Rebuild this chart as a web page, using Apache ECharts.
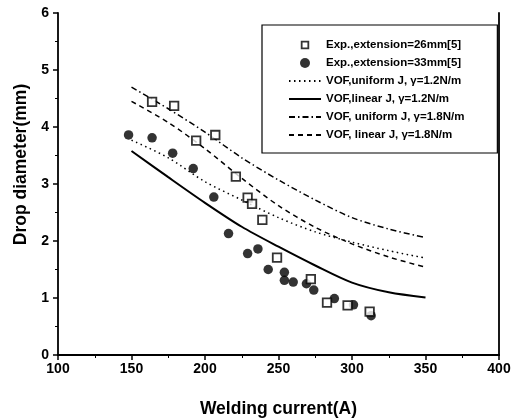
<!DOCTYPE html>
<html>
<head>
<meta charset="utf-8">
<script src="https://cdn.jsdelivr.net/npm/echarts@6/dist/echarts.min.js"></script>
<style>
  html, body { margin: 0; padding: 0; background: #fff; }
  #chart { width: 527px; height: 418px; }
</style>
</head>
<body>
<div id="chart"></div>
<script>
// 实验数据：焊丝伸出长度 26mm
var exp26X = [164, 179, 194, 207, 221, 229, 232, 239, 249, 272, 283, 297, 312];
var exp26Y = [4.44, 4.37, 3.76, 3.86, 3.13, 2.76, 2.65, 2.37, 1.71, 1.33, 0.92, 0.87, 0.76];
// 实验数据：焊丝伸出长度 33mm
var exp33X = [148, 164, 178, 192, 206, 216, 229, 236, 243, 254, 254, 260, 269, 274, 288, 301, 313];
var exp33Y = [3.86, 3.81, 3.54, 3.27, 2.77, 2.13, 1.78, 1.86, 1.50, 1.45, 1.31, 1.28, 1.25, 1.14, 0.99, 0.88, 0.69];
// VOF 计算曲线的横坐标
var currentX = [150, 175, 200, 225, 250, 275, 300, 325, 350];
var uniform12 = [3.77, 3.46, 3.04, 2.72, 2.41, 2.16, 1.98, 1.83, 1.70];
var linear12 = [3.58, 3.12, 2.67, 2.25, 1.90, 1.57, 1.27, 1.10, 1.01];
var uniform18 = [4.70, 4.32, 3.91, 3.46, 3.07, 2.72, 2.41, 2.21, 2.06];
var linear18 = [4.45, 4.08, 3.62, 3.10, 2.62, 2.24, 1.95, 1.72, 1.54];

var seriesNames = [
  'Exp.,extension=26mm[5]',
  'Exp.,extension=33mm[5]',
  'VOF,uniform J, γ=1.2N/m',
  'VOF,linear J, γ=1.2N/m',
  'VOF, uniform J, γ=1.8N/m',
  'VOF, linear J, γ=1.8N/m'
];

function pairs (xs, ys) {
  return xs.map(function (x, i) { return [x, ys[i]]; });
}

var font = 'Liberation Sans, Arial, sans-serif';

function lineSeries (name, ys, type, width) {
  return {
    name: name,
    type: 'line',
    data: pairs(currentX, ys),
    smooth: 0.3,
    symbol: 'none',
    lineStyle: { color: '#000', width: width, type: type },
    itemStyle: { color: '#000' }
  };
}

// 图例：散点用小方块/圆点，曲线只画线（隐藏图例里的圆点）
var squareIcon = 'path://M0,0 M12,12 M2,2 L10,2 L10,10 L2,10 Z';
var hideSymbol = { opacity: 0 };
var legendData = [
  { name: seriesNames[0], icon: squareIcon, itemStyle: { color: '#fff', borderColor: '#000', borderWidth: 1.8 } },
  { name: seriesNames[1], icon: 'circle' },
  { name: seriesNames[2], itemStyle: hideSymbol },
  { name: seriesNames[3], itemStyle: hideSymbol },
  { name: seriesNames[4], itemStyle: hideSymbol },
  { name: seriesNames[5], itemStyle: hideSymbol }
];

var chart = echarts.init(document.getElementById('chart'));
var option = {
  animation: false,
  grid: { left: 58, right: 28, top: 13, bottom: 63, outerBoundsMode: 'none', containLabel: false },
  legend: {
    left: 262,
    top: 25,
    orient: 'vertical',
    padding: [14, 33, 12, 26],
    itemGap: 6,
    itemWidth: 32,
    itemHeight: 10,
    symbolKeepAspect: true,
    borderColor: '#000',
    borderWidth: 1.2,
    textStyle: { fontFamily: font, fontSize: 11.5, fontWeight: 'bold', color: '#000' },
    data: legendData
  },
  xAxis: [{
    type: 'value',
    min: 100,
    max: 400,
    interval: 50,
    name: 'Welding current(A)',
    nameLocation: 'middle',
    nameGap: 45,
    nameTextStyle: { fontFamily: font, fontSize: 17.5, fontWeight: 'bold', color: '#000' },
    axisLine: { lineStyle: { color: '#000', width: 1.8 } },
    axisTick: { show: true, length: 5, lineStyle: { color: '#000', width: 1.5 } },
    minorTick: { show: true, splitNumber: 2, length: 3, lineStyle: { color: '#000' } },
    axisLabel: { fontFamily: font, fontSize: 14, fontWeight: 'bold', color: '#000', margin: 7 },
    splitLine: { show: false }
  }, {
    type: 'value',
    position: 'top',
    min: 100,
    max: 400,
    axisLine: { show: true, lineStyle: { color: '#000', width: 1.8 } },
    axisTick: { show: false },
    axisLabel: { show: false },
    splitLine: { show: false }
  }],
  yAxis: [{
    type: 'value',
    min: 0,
    max: 6,
    interval: 1,
    name: 'Drop diameter(mm)',
    nameLocation: 'middle',
    nameGap: 27,
    nameTextStyle: { fontFamily: font, fontSize: 17.5, fontWeight: 'bold', color: '#000', padding: [0, 0, 0, 39] },
    axisLine: { show: true, lineStyle: { color: '#000', width: 1.8 } },
    axisTick: { show: true, length: 5, lineStyle: { color: '#000', width: 1.5 } },
    minorTick: { show: true, splitNumber: 2, length: 3, lineStyle: { color: '#000' } },
    axisLabel: { fontFamily: font, fontSize: 14, fontWeight: 'bold', color: '#000', margin: 9 },
    splitLine: { show: false }
  }, {
    type: 'value',
    position: 'right',
    min: 0,
    max: 6,
    axisLine: { show: true, lineStyle: { color: '#000', width: 1.8 } },
    axisTick: { show: false },
    axisLabel: { show: false },
    splitLine: { show: false }
  }],
  series: [
    {
      name: seriesNames[0],
      type: 'scatter',
      data: pairs(exp26X, exp26Y),
      symbol: 'rect',
      symbolSize: 8.5,
      itemStyle: { color: '#fff', borderColor: '#000', borderWidth: 1.8 },
      z: 4
    },
    {
      name: seriesNames[1],
      type: 'scatter',
      data: pairs(exp33X, exp33Y),
      symbol: 'circle',
      symbolSize: 9.5,
      itemStyle: { color: '#000' },
      z: 3
    },
    lineSeries(seriesNames[2], uniform12, [1.5, 3.5], 1.5),
    lineSeries(seriesNames[3], linear12, 'solid', 2),
    lineSeries(seriesNames[4], uniform18, [6, 3, 1.5, 3], 1.5),
    lineSeries(seriesNames[5], linear18, [5, 4], 1.5)
  ]
};
chart.setOption(option);
</script>
</body>
</html>
